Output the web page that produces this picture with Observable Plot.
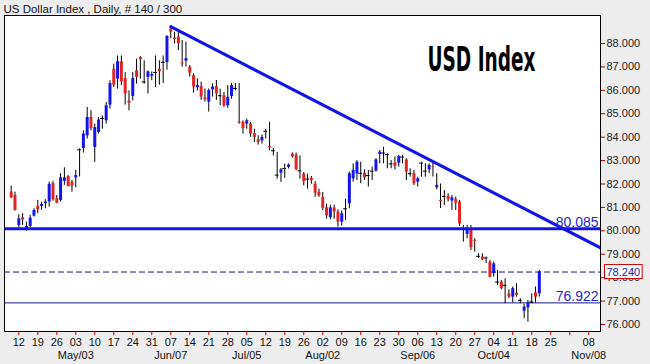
<!DOCTYPE html>
<html><head><meta charset="utf-8">
<script src="https://cdn.jsdelivr.net/npm/d3@7"></script>
<script src="https://cdn.jsdelivr.net/npm/@observablehq/plot@0.6"></script>
<style>html,body{margin:0;padding:0;background:#ededed;} svg{display:block}</style>
</head><body><div id="chart"></div>
<script>
// Daily OHLC, 140 trading days (Apr 8 .. Oct 20)
const open = [81.65,81.51,80.23,80.56,80.05,80.19,80.63,81.04,81.04,81.16,81.23,82.01,81.37,81.30,82.11,82.32,82.08,82.26,83.46,83.52,
84.06,84.84,83.56,84.20,84.80,84.70,85.37,86.90,86.48,87.22,86.50,85.54,85.74,86.83,87.40,86.36,86.55,86.60,86.76,86.90,
87.19,87.19,88.62,88.23,88.27,87.17,87.25,86.99,86.63,86.11,86.16,85.68,85.50,86.02,86.16,85.77,85.77,85.34,85.74,86.08,
84.65,84.63,84.56,84.56,84.16,83.89,83.84,84.25,83.60,83.42,82.38,82.46,82.66,82.71,83.28,83.23,82.56,82.42,82.21,82.24,
81.99,81.64,81.43,80.98,80.56,80.98,80.80,80.37,80.94,81.15,82.22,82.43,82.46,82.46,82.36,82.55,82.55,83.26,83.32,83.26,
82.86,82.90,82.89,83.15,83.03,82.44,82.44,82.08,82.89,82.55,82.60,82.72,81.84,81.30,81.47,81.47,81.27,81.33,81.23,80.10,
79.85,80.09,79.60,78.91,78.88,78.84,78.66,78.17,77.81,77.81,77.67,77.31,77.17,77.34,77.03,76.57,76.71,76.96,77.35,77.31];
const high = [81.91,81.65,80.69,80.73,80.37,80.66,80.94,81.30,81.23,81.33,82.08,82.11,81.51,82.44,82.69,82.36,82.15,82.58,83.50,84.27,
85.27,85.13,84.56,84.84,84.91,85.48,86.41,87.12,87.47,87.47,86.76,85.98,86.76,87.33,87.45,87.26,86.83,86.79,87.47,87.26,
87.47,88.33,88.73,88.48,88.48,88.13,88.06,87.06,86.71,86.49,86.35,86.06,86.06,86.28,86.42,86.05,85.91,86.20,86.29,86.29,
86.29,84.70,84.77,84.63,84.34,84.06,84.09,84.34,84.63,83.52,83.35,82.66,82.85,82.85,83.33,83.32,83.20,82.49,82.42,82.32,
82.10,81.78,81.64,81.14,81.10,81.10,80.90,80.85,81.35,82.51,82.86,83.00,82.93,82.60,82.58,82.72,83.08,83.43,83.57,83.29,
83.00,83.15,83.22,83.22,83.08,82.65,82.58,82.29,82.93,82.86,82.86,82.88,82.44,82.00,81.72,81.58,81.51,81.44,81.30,80.23,
80.23,80.23,79.66,79.02,79.02,78.88,78.73,78.66,78.31,77.88,77.95,77.48,77.60,77.74,77.10,76.86,77.03,77.31,77.60,78.31];
const low = [81.37,80.84,80.13,80.23,79.99,80.13,80.59,80.73,80.87,80.94,81.01,81.27,81.16,81.23,81.94,81.87,81.65,81.84,82.30,83.32,
83.92,84.27,82.92,84.13,84.34,84.56,85.20,86.12,86.05,86.20,85.37,85.13,85.55,86.26,86.48,86.26,85.84,86.41,86.12,86.22,
86.29,86.86,88.20,87.99,87.70,86.99,86.99,86.56,85.88,85.97,85.57,85.50,85.07,85.71,85.57,85.34,85.27,85.23,85.62,85.98,
84.55,84.13,84.34,83.99,83.77,83.66,83.70,83.92,83.42,83.20,82.20,82.07,82.24,82.64,83.10,82.56,82.21,81.92,81.78,81.99,
81.43,81.43,80.86,80.50,80.47,80.50,80.16,80.20,80.44,80.94,82.08,82.15,82.01,82.15,81.87,82.15,82.51,82.86,82.86,82.65,
82.65,82.60,82.72,82.86,82.15,82.29,81.94,81.87,82.29,82.29,82.44,82.30,81.75,80.95,81.08,81.23,80.87,80.87,80.19,79.52,
79.66,79.16,79.09,78.81,78.73,78.60,77.99,78.02,77.67,77.48,76.89,77.10,76.92,77.17,76.89,76.25,76.10,76.89,76.92,77.17];
const close = [81.41,80.87,80.51,80.46,80.19,80.54,80.87,80.90,81.13,81.23,81.98,81.33,81.18,82.26,82.26,81.89,81.91,82.36,83.46,84.13,
84.84,84.37,84.41,84.73,84.80,85.34,86.29,86.22,87.22,86.36,85.84,85.45,86.50,86.55,87.30,86.36,86.79,86.67,86.76,86.79,
87.19,88.30,88.48,88.17,87.99,87.13,87.35,86.73,86.14,86.21,85.71,85.60,86.00,86.14,85.85,85.77,85.34,85.70,86.20,86.08,
84.60,84.37,84.70,84.13,83.99,83.77,83.99,84.25,83.55,83.42,82.38,82.61,82.66,82.81,83.16,82.61,82.56,82.10,82.21,82.14,
81.61,81.50,80.96,80.64,80.98,80.80,80.37,80.73,80.94,82.44,82.58,82.93,82.46,82.26,82.36,82.55,83.03,83.36,83.32,83.26,
82.86,82.75,83.17,83.15,82.51,82.44,82.01,82.22,82.89,82.55,82.79,82.70,81.94,81.25,81.47,81.33,81.41,81.18,80.30,80.05,
80.02,79.28,79.55,78.91,78.76,78.84,78.02,78.59,77.81,77.53,77.67,77.17,77.53,77.24,77.03,76.74,76.91,76.96,77.17,78.24];

// Weekly (Monday) ticks, as trading-day index, with labels
const weekIdx = [2,7,12,17,22,27,32,37,42,47,52,57,62,67,72,77,82,87,92,97,102,107,112,117,122,127,132,137,142,147,152];
const weekLabels = ["12","19","26","03","10","17","24","31","07","14","21","28","05","12","19","26","02","09","16","23","30","06","13","20","27","04","11","18","25","","08"];
const monthIdx = [17,42,62,82,107,127,152];
const monthLabels = ["May/03","Jun/07","Jul/05","Aug/02","Sep/06","Oct/04","Nov/08"];
const yTicks = [76,77,78,79,80,81,82,83,84,85,86,87,88];

// Overlay levels
const trendline = [{i:42, p:88.72},{i:155.1, p:79.27}];
const supportLevel = 80.085;
const lowLevel = 76.922;
const lastClose = 78.240;

const data = open.map((o,i)=>({i, o, h:high[i], l:low[i], c:close[i]}));
const weekMap = new Map(weekIdx.map((d,k)=>[d, weekLabels[k]]));
const monthMap = new Map(monthIdx.map((d,k)=>[d, monthLabels[k]]));

const BLUE = "#1414e8", RED = "#e02424", NAVY = "#14148c";

const chart = Plot.plot({
  width: 650, height: 364,
  marginLeft: 4, marginRight: 50, marginTop: 15, marginBottom: 33,
  style: {background: "#ededed", fontFamily: "'Liberation Sans', Arial, sans-serif", fontSize: "11px", color: "#111"},
  x: {type: "linear", domain: [-1.76, 155.1], axis: null},
  y: {domain: [75.70, 89.196], axis: null},
  marks: [
    Plot.frame({fill: "white"}),
    Plot.ruleY([lastClose], {stroke: NAVY, strokeWidth: 1, strokeDasharray: "6,3"}),
    Plot.ruleY([lowLevel], {stroke: NAVY, strokeWidth: 1}),
    Plot.ruleX(data, {x: "i", y1: "l", y2: "h", stroke: "#000", strokeWidth: 1}),
    Plot.ruleX(data, {filter: d => d.c > d.o, x: "i", y1: "o", y2: "c", stroke: BLUE, strokeWidth: 3}),
    Plot.ruleX(data, {filter: d => d.c < d.o, x: "i", y1: "o", y2: "c", stroke: RED, strokeWidth: 3}),
    Plot.ruleY(data, {filter: d => d.c === d.o, y: "c", x1: d => d.i - 0.5, x2: d => d.i + 0.5, stroke: "#000", strokeWidth: 1}),
    Plot.line(trendline, {x: "i", y: "p", stroke: BLUE, strokeWidth: 3.2, clip: true}),
    Plot.ruleY([supportLevel], {stroke: BLUE, strokeWidth: 3}),
    Plot.text([supportLevel, lowLevel], {y: d => d, text: d => d.toFixed(3), frameAnchor: "right", textAnchor: "end", lineAnchor: "bottom", dx: -2, dy: -2, fill: "#2828c8", fontSize: 14}),
    Plot.text(["USD Index"], {text: d => d, frameAnchor: "top-left", textAnchor: "start", lineAnchor: "bottom", dx: 423, dy: 55, fill: "#000", fontSize: 33, fontWeight: "bold", fontFamily: "'DejaVu Sans Condensed', 'DejaVu Sans', sans-serif"}),
    Plot.text(["US Dollar Index , Daily, # 140 / 300"], {text: d => d, frameAnchor: "top-left", textAnchor: "start", lineAnchor: "bottom", dx: -1, dy: -3, fill: "#111", fontSize: 11.5}),
    Plot.frame({stroke: "#000", strokeWidth: 1}),
    Plot.axisY(yTicks, {anchor: "right", tickSize: 4, tickPadding: 2, stroke: "#c00000", fill: "#222", tickFormat: d => d.toFixed(3), fontSize: 11, label: null}),
    Plot.text([lastClose], {y: d => d, text: d => d.toFixed(3), frameAnchor: "right", textAnchor: "start", dx: 6, fill: "#1a1ab4", fontSize: 11}),
    Plot.axisX(weekIdx, {anchor: "bottom", tickSize: 4, tickPadding: 3, stroke: "#c00000", fill: "#111", tickFormat: d => weekMap.get(d), fontSize: 11, label: null}),
    Plot.axisX(monthIdx, {anchor: "bottom", tickSize: 0, tickPadding: 20, fill: "#111", tickFormat: d => monthMap.get(d), fontSize: 11, label: null})
  ]
});
document.getElementById("chart").appendChild(chart);

// post-process: condensed title width and last-value box
d3.select(chart).selectAll("text").each(function() {
  const t = this.textContent;
  if (t === "USD Index") {
    this.setAttribute("textLength", 108);
    this.setAttribute("lengthAdjust", "spacingAndGlyphs");
  }
  if (t === lastClose.toFixed(3) && this.parentNode && this.getAttribute("fill") !== null || (t === lastClose.toFixed(3))) {
    const node = this.tagName === "text" ? this : null;
    if (!node) return;
    const bb = node.getBBox();
    const g = node.parentNode;
    const rect = document.createElementNS("http://www.w3.org/2000/svg", "rect");
    rect.setAttribute("x", bb.x - 2);
    rect.setAttribute("y", bb.y - 1);
    rect.setAttribute("width", bb.width + 4);
    rect.setAttribute("height", bb.height + 2);
    rect.setAttribute("fill", "#fff");
    rect.setAttribute("stroke", "#d00000");
    rect.setAttribute("stroke-width", 1);
    const tr = node.getAttribute("transform");
    if (tr) rect.setAttribute("transform", tr);
    g.insertBefore(rect, node);
  }
});
</script>
</body></html>
